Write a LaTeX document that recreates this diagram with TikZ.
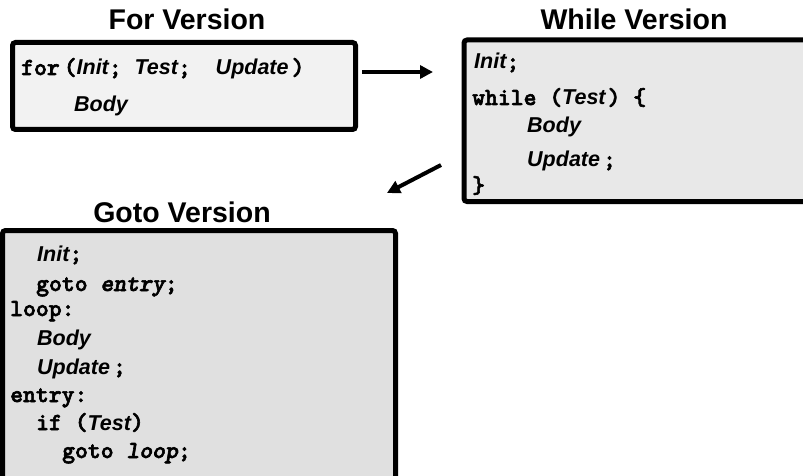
\documentclass[tikz,border=0pt]{standalone}
\usepackage{fontspec}
\setmainfont{Liberation Sans}
\newfontfamily\codefont{lmmonolt10-bold}[Extension=.otf, ItalicFont=lmmonolt10-boldoblique, FakeBold=2.5]
\usetikzlibrary{arrows.meta}
\newcommand{\ital}[1]{{\normalfont\fontsize{21.5}{24}\selectfont\bfseries\itshape #1}}
\newcommand{\mital}[1]{{\itshape #1}}
\tikzset{
  box/.style={draw=black, line width=5pt, rounded corners=3pt, inner sep=0pt},
  title/.style={font=\fontsize{28.5}{30}\selectfont\bfseries, anchor=base, inner sep=0pt},
  gcode/.style={anchor=base west, inner sep=0pt, font=\fontsize{24.5}{26}\selectfont\codefont},
  flow/.style={line width=4pt, -{Triangle[length=13pt,width=13pt]}}
}
\begin{document}
\begin{tikzpicture}[x=1pt,y=-1pt]
\useasboundingbox (0,0) rectangle (803,476);
% boxes
\node[box, fill=black!5, minimum width=343pt, minimum height=87pt] (forbox) at (184,86) {};
\node[box, fill=black!9, minimum width=346pt, minimum height=161.5pt] (whilebox) at (637,120.75) {};
\node[box, fill=black!12, minimum width=393pt, minimum height=252pt] (gotobox) at (199,356.5) {};
% titles
\node[title] (fortitle) at (187,30) {For Version};
\node[title] (whiletitle) at (634,30) {While Version};
\node[title] (gototitle) at (182,222) {Goto Version};
% for text
\node[gcode] (f1) at (21,75) {for\kern4pt(\ital{Init}; \ital{Test}; \kern12pt\ital{Update}\kern3pt)};
\node[gcode] (f2) at (74,112) {\ital{Body}};
% while text
\node[gcode] (w1) at (474,69) {\ital{Init};};
\node[gcode] (w2) at (472,105) {while (\ital{Test}\kern2pt) \{};
\node[gcode] (w3) at (527,133) {\ital{Body}};
\node[gcode] (w4) at (527,167) {\ital{Update}\kern3pt;};
\node[gcode] (w5) at (472,193) {\}};
% goto text
\node[gcode] (g1) at (37,261) {\ital{Init};};
\node[gcode] (g2) at (36,291) {goto \mital{entry};};
\node[gcode] (g3) at (10,316) {loop:};
\node[gcode] (g4) at (37,345) {\ital{Body}};
\node[gcode] (g5) at (37,374) {\ital{Update}\kern3pt;};
\node[gcode] (g6) at (10,402) {entry:};
\node[gcode] (g7) at (36,430) {if (\ital{Test})};
\node[gcode] (g8) at (62,458) {goto \mital{loop};};
% arrows
\coordinate (a1) at (362,72);
\coordinate (a2) at (433,72);
\coordinate (b1) at (441,165);
\coordinate (b2) at (387,193);
\draw[flow] (a1) -- (a2);
\draw[flow] (b1) -- (b2);
\end{tikzpicture}
\end{document}
